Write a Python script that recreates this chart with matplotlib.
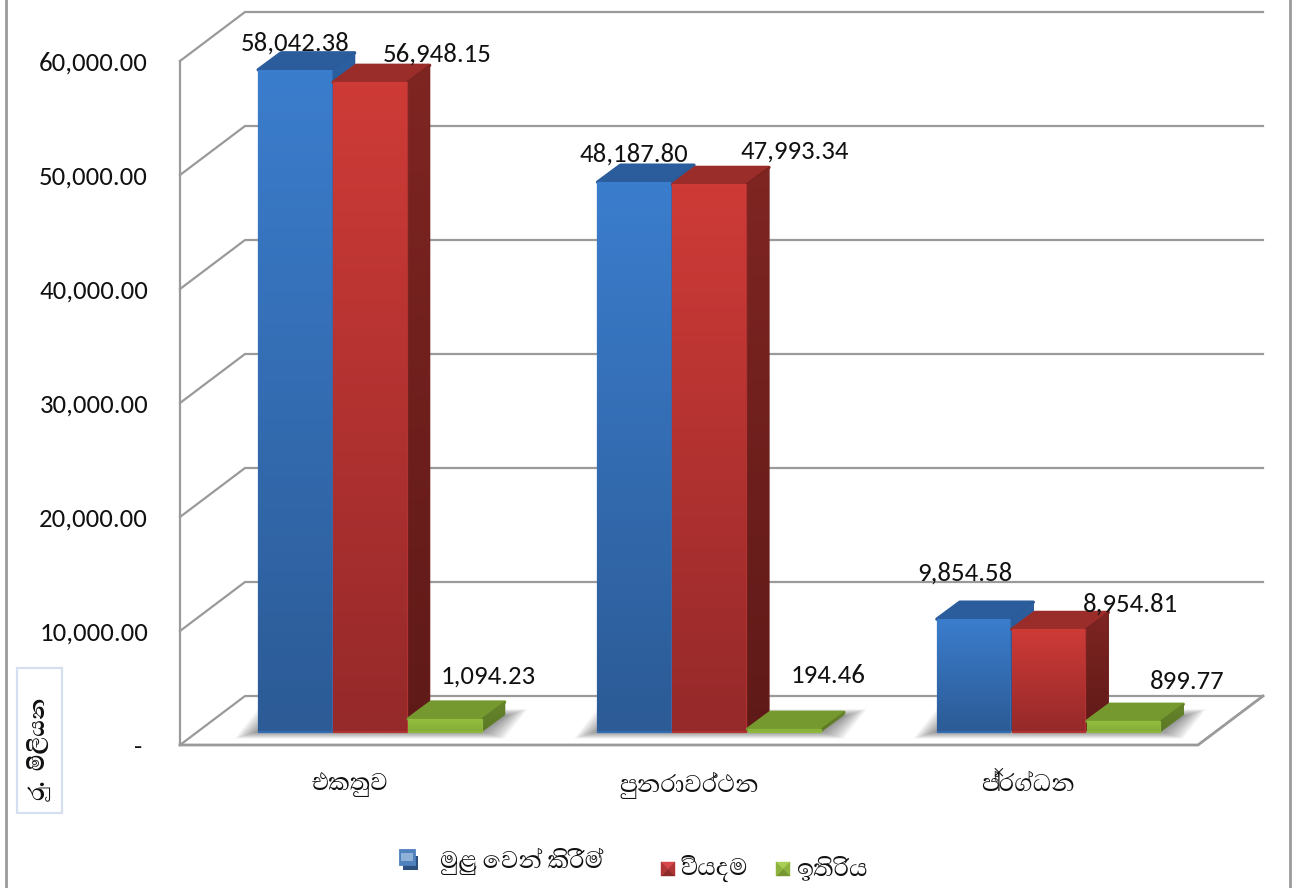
import re
import matplotlib
matplotlib.use('Agg')
import matplotlib.pyplot as plt
import numpy as np
from matplotlib.colors import to_rgb
from matplotlib.patches import Polygon, Rectangle

NUM_FONT = ['Carlito', 'Lato', 'DejaVu Sans']
SIN_FONT = ['Abhaya Libre', 'Noto Sans Sinhala', 'DejaVu Sans']
plt.rcParams['font.family'] = NUM_FONT

categories = ['එකතුව', 'පුනරාවර්ථන', 'ප්‍රග්ධන']
series_names = ['මුළු වෙන් කිරීම්', 'වියදම', 'ඉතිරිය']
allocation = [58042.38, 48187.80, 9854.58]
expense = [56948.15, 47993.34, 8954.81]
balance = [1094.23, 194.46, 899.77]
y_ticks = [0, 10000, 20000, 30000, 40000, 50000, 60000]
y_labels = ['- ', '10,000.00', '20,000.00', '30,000.00', '40,000.00', '50,000.00', '60,000.00']
y_title = 'රු.  මිලියන'

W, H = 1296, 888
GREY = '#9a9a9a'
BLACK = '#111111'

# front top, front bottom, side top, side bottom, top face
blue_cols = ('#3b7dcd', '#2c5b96', '#2c5f9f', '#264f85', '#2b5d9c')
red_cols = ('#ce3b37', '#96292a', '#7f2522', '#5f1a18', '#9a2d2a')
green_cols = ('#94bf3f', '#86ad38', '#66852a', '#5c7826', '#76992f')

# label offsets from the top of each bar, in pixels
label_shift = [
    [(1, 27), (0, 28), (-8, 46)],
    [(68, 28), (86, 33), (82, 25)],
    [(44, 43), (44, 54), (64, 40)],
]


def draw_order(s):
    # matplotlib does no shaping, so the kombuva has to come before its consonant
    return re.sub('(.)\u0dd9', '\u0dd9\\1', s)


fig = plt.figure(figsize=(W / 100, H / 100), dpi=100, facecolor='white')


def rect(x0, y_bottom, w, h):
    return [x0 / W, 1 - y_bottom / H, w / W, h / H]


# walls and floor
ax = fig.add_axes(rect(180, 745, 1018, 684))
ax.set_xlim(-0.5, 2.5)
ax.set_ylim(0, 60000)
ax.patch.set_alpha(0)
for s in ax.spines.values():
    s.set_visible(False)
px_x = 3 / 1018
px_y = 60000 / 684
wall_dx = 65 * px_x
wall_dy = 49 * px_y
for t in y_ticks:
    ax.plot([-0.5, -0.5 + wall_dx, 2.5 + wall_dx], [t, t + wall_dy, t + wall_dy],
            color=GREY, lw=1.6, clip_on=False, solid_joinstyle='miter')
ax.plot([-0.5, -0.5], [0, 60000], color=GREY, lw=1.6, clip_on=False)
ax.plot([-0.5, 2.5, 2.5 + wall_dx], [0, 0, wall_dy], color=GREY, lw=2.0, clip_on=False)
ax.set_xticks(range(3))
ax.set_xticklabels([draw_order(c) for c in categories], fontsize=22, color=BLACK, family=SIN_FONT)
ax.set_yticks(y_ticks)
ax.set_yticklabels(y_labels, fontsize=19.3, color=BLACK)
ax.tick_params(length=0, axis='y', pad=23)
ax.tick_params(length=0, axis='x', pad=19.5)

# bars sit a little way back from the front edge
bx = fig.add_axes(rect(200, 731.5, 1018, 684))
bx.set_xlim(-0.5, 2.5)
bx.set_ylim(0, 60000)
bx.axis('off')
bar_w = 75 / 339.33
bar_dx = 23 * px_x
bar_dy = 17 * px_y
z = [2]


def grad(verts, top, bottom):
    ys = [v[1] for v in verts]
    xs = [v[0] for v in verts]
    img = np.linspace(to_rgb(top), to_rgb(bottom), 64).reshape(64, 1, 3)
    mid = tuple((np.array(to_rgb(top)) + np.array(to_rgb(bottom))) / 2)
    z[0] += 1
    p = Polygon(verts, closed=True, fc=mid, ec=mid, lw=0.9, joinstyle='round',
                transform=bx.transData, clip_on=False, zorder=z[0])
    bx.add_patch(p)
    z[0] += 1
    im = bx.imshow(img, extent=[min(xs), max(xs), min(ys), max(ys)], aspect='auto',
                   zorder=z[0], interpolation='bilinear')
    im.set_clip_path(p)


def bar_3d(x, v, cols):
    x0, x1 = x - bar_w / 2 + 1 * px_x, x + bar_w / 2 - 0.5 * px_x
    z[0] += 1
    top = Polygon([(x0, v), (x1, v), (x1 + bar_dx, v + bar_dy), (x0 + bar_dx, v + bar_dy)],
                  closed=True, fc=cols[4], ec=cols[4], lw=2.4, joinstyle='round', zorder=z[0],
                  clip_on=False)
    bx.add_patch(top)
    grad([(x1, 0), (x1, v), (x1 + bar_dx, v + bar_dy), (x1 + bar_dx, bar_dy)], cols[2], cols[3])
    grad([(x0, 0), (x1, 0), (x1, v), (x0, v)], cols[0], cols[1])


# soft shadow on the floor
for g in range(3):
    left = g - bar_w * 1.5
    right = g + bar_w * 1.5
    for e in np.linspace(1, 0, 12):
        ex = e * 22 * px_x
        ey = e * 7 * px_y
        bx.add_patch(Polygon([(left - ex, -ey), (right + ex, -ey),
                              (right + bar_dx + ex, bar_dy * 0.9 + ey), (left + bar_dx - ex, bar_dy * 0.9 + ey)],
                             closed=True, fc='#303030', ec='none', alpha=0.055, zorder=1, clip_on=False))

all_series = [allocation, expense, balance]
all_cols = [blue_cols, red_cols, green_cols]
bx_offsets = [-bar_w, 0, bar_w]
for g in range(3):
    for s in range(3):
        bar_3d(g + bx_offsets[s], all_series[s][g], all_cols[s])

for s in range(3):
    for g in range(3):
        v = all_series[s][g]
        bx.annotate(f'{v:,.2f}', (g + bx_offsets[s], v), xytext=label_shift[s][g],
                    textcoords='offset pixels', ha='center', va='center', fontsize=19.3,
                    color=BLACK, zorder=200, annotation_clip=False)

bx.set_xlim(-0.5, 2.5)
bx.set_ylim(0, 60000)

# outer frame
fig.add_artist(plt.Line2D([6 / W, 6 / W], [0, 1], color=GREY, lw=2.0))
fig.add_artist(plt.Line2D([1290 / W, 1290 / W], [0, 1], color=GREY, lw=2.0))

# unit box on the left
fig.add_artist(Rectangle((17 / W, 1 - 813 / H), 45 / W, 145 / H, transform=fig.transFigure,
                         fc='white', ec='#d5dff0', lw=1.6))
fig.text(41 / W, 1 - 750 / H, y_title, rotation=90, ha='center', va='center', fontsize=20,
         color=BLACK, fontweight='bold', family=SIN_FONT)


def bevel_marker(x, y, size, light, dark, side):
    # little pyramid marker, x and y are its top left corner in pixels
    c = (x + size / 2, y + size / 2)
    corners = [(x, y), (x + size, y), (x + size, y + size), (x, y + size)]
    faces = [light, side, dark, side]
    for i in range(4):
        pts = [corners[i], corners[(i + 1) % 4], c]
        fig.add_artist(Polygon([(p[0] / W, 1 - p[1] / H) for p in pts], closed=True,
                               transform=fig.transFigure, fc=faces[i], ec=faces[i], lw=0.3))


# legend, placed by hand as in the original
fig.add_artist(Rectangle((403 / W, 1 - 870 / H), 15 / W, 14 / H, transform=fig.transFigure,
                         fc='#2d4f80', ec='none'))
fig.add_artist(Rectangle((399 / W, 1 - 865 / H), 16 / W, 16 / H, transform=fig.transFigure,
                         fc='#4f81bd', ec='#4f81bd', lw=0.6))
fig.add_artist(Rectangle((401 / W, 1 - 861 / H), 12 / W, 8 / H, transform=fig.transFigure,
                         fc='#8fb0d8', ec='none'))
fig.text(440 / W, 1 - 861 / H, draw_order(series_names[0]), ha='left', va='center', fontsize=22,
         color=BLACK, family=SIN_FONT)
bevel_marker(661, 862, 14, '#d8474a', '#8e2a2a', '#b03335')
fig.text(680 / W, 1 - 868 / H, draw_order(series_names[1]), ha='left', va='center', fontsize=22,
         color=BLACK, family=SIN_FONT)
bevel_marker(776, 862, 14, '#a9cf55', '#76962f', '#8fb33f')
fig.text(796 / W, 1 - 869 / H, draw_order(series_names[2]), ha='left', va='center', fontsize=22,
         color=BLACK, family=SIN_FONT)

fig.savefig('out.png', dpi=100)
